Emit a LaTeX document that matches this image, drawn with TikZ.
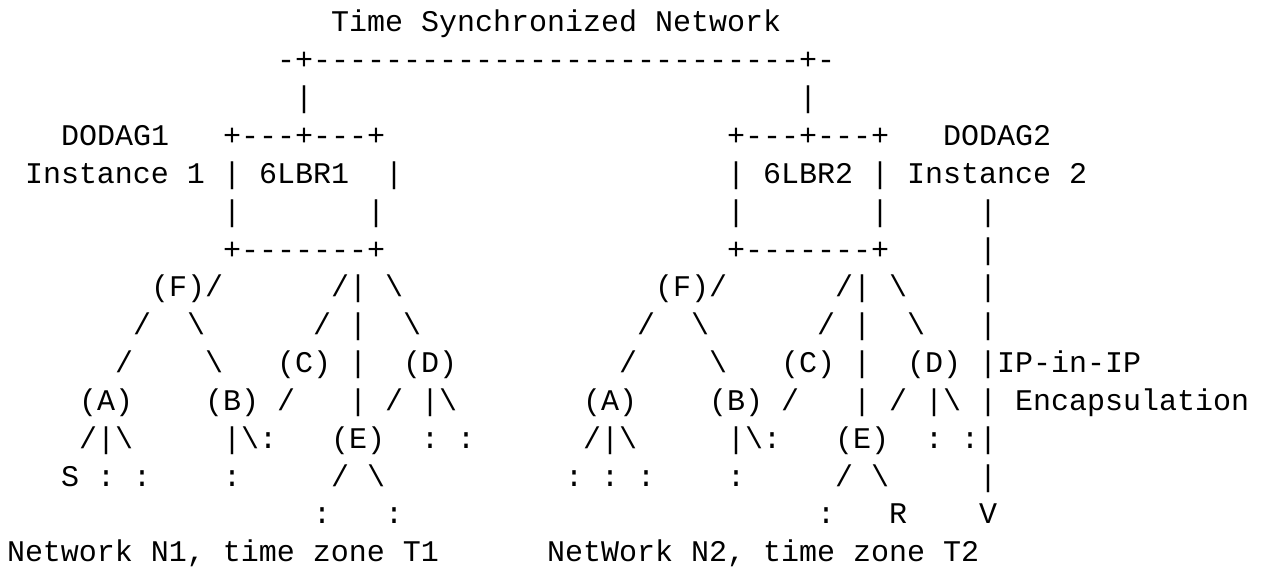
\documentclass[tikz,border=0pt]{standalone}
\usepackage{fontspec}
\setmonofont{Liberation Mono}
\newcommand\bs{\textbackslash}
% one fragment of the character grid: name, row, column, text
\newcommand\cell[4]{\node[asc] (#1) at ({7+18*#3},{32+37.84*#2}) {#4};}
\begin{document}
\begin{tikzpicture}[x=1pt,y=-1pt,
  asc/.style={anchor=base west,inner sep=0pt,outer sep=0pt,
    font=\ttfamily\fontsize{30}{36}\selectfont,text=black}]
\useasboundingbox[fill=white] (0,0) rectangle (1270,569);
% backbone
\cell{title}{0}{18}{Time Synchronized Network}
\cell{bus}{1}{15}{-+---------------------------+-}
\cell{upA}{2}{16}{|}
\cell{upB}{2}{44}{|}
% border routers
\cell{dagA}{3}{3}{DODAG1}
\cell{boxAt}{3}{12}{+---+---+}
\cell{boxBt}{3}{40}{+---+---+}
\cell{dagB}{3}{52}{DODAG2}
\cell{instA}{4}{1}{Instance 1}
\cell{boxAl}{4}{12}{|}
\cell{lbrA}{4}{14}{6LBR1}
\cell{boxAr}{4}{21}{|}
\cell{boxBl}{4}{40}{|}
\cell{lbrB}{4}{42}{6LBR2}
\cell{boxBr}{4}{48}{|}
\cell{instB}{4}{50}{Instance 2}
\cell{sAl}{5}{12}{|}
\cell{sAr}{5}{20}{|}
\cell{sBl}{5}{40}{|}
\cell{sBr}{5}{48}{|}
\cell{tun5}{5}{54}{|}
\cell{boxAb}{6}{12}{+-------+}
\cell{boxBb}{6}{40}{+-------+}
\cell{tun6}{6}{54}{|}
% first level
\cell{fA}{7}{8}{(F)/}
\cell{kA}{7}{18}{/|}
\cell{dA7}{7}{21}{\bs}
\cell{fB}{7}{36}{(F)/}
\cell{kB}{7}{46}{/|}
\cell{dB7}{7}{49}{\bs}
\cell{tun7}{7}{54}{|}
\cell{a81}{8}{7}{/}
\cell{a82}{8}{10}{\bs}
\cell{a83}{8}{17}{/}
\cell{a84}{8}{19}{|}
\cell{a85}{8}{22}{\bs}
\cell{b81}{8}{35}{/}
\cell{b82}{8}{38}{\bs}
\cell{b83}{8}{45}{/}
\cell{b84}{8}{47}{|}
\cell{b85}{8}{50}{\bs}
\cell{tun8}{8}{54}{|}
\cell{a91}{9}{6}{/}
\cell{a92}{9}{11}{\bs}
\cell{cA}{9}{15}{(C)}
\cell{a93}{9}{19}{|}
\cell{dA}{9}{22}{(D)}
\cell{b91}{9}{34}{/}
\cell{b92}{9}{39}{\bs}
\cell{cB}{9}{43}{(C)}
\cell{b93}{9}{47}{|}
\cell{dB}{9}{50}{(D)}
\cell{tun9}{9}{54}{|IP-in-IP}
% second level
\cell{aA}{10}{4}{(A)}
\cell{bA}{10}{11}{(B)}
\cell{a101}{10}{15}{/}
\cell{a102}{10}{19}{|}
\cell{a103}{10}{21}{/}
\cell{a104}{10}{23}{|\bs}
\cell{aB}{10}{32}{(A)}
\cell{bB}{10}{39}{(B)}
\cell{b101}{10}{43}{/}
\cell{b102}{10}{47}{|}
\cell{b103}{10}{49}{/}
\cell{b104}{10}{51}{|\bs}
\cell{tun10}{10}{54}{|}
\cell{encap}{10}{56}{Encapsulation}
\cell{a111}{11}{4}{/|\bs}
\cell{a112}{11}{12}{|\bs:}
\cell{eA}{11}{18}{(E)}
\cell{a113}{11}{23}{:}
\cell{a114}{11}{25}{:}
\cell{b111}{11}{32}{/|\bs}
\cell{b112}{11}{40}{|\bs:}
\cell{eB}{11}{46}{(E)}
\cell{b113}{11}{51}{:}
\cell{b114}{11}{53}{:|}
% leaves
\cell{src}{12}{3}{S}
\cell{a121}{12}{5}{:}
\cell{a122}{12}{7}{:}
\cell{a123}{12}{12}{:}
\cell{a124}{12}{18}{/}
\cell{a125}{12}{20}{\bs}
\cell{b121}{12}{31}{:}
\cell{b122}{12}{33}{:}
\cell{b123}{12}{35}{:}
\cell{b124}{12}{40}{:}
\cell{b125}{12}{46}{/}
\cell{b126}{12}{48}{\bs}
\cell{tun12}{12}{54}{|}
\cell{a131}{13}{17}{:}
\cell{a132}{13}{21}{:}
\cell{b131}{13}{45}{:}
\cell{rcv}{13}{49}{R}
\cell{dst}{13}{54}{V}
% captions
\cell{netA}{14}{0}{Network N1, time zone T1}
\cell{netB}{14}{30}{NetWork N2, time zone T2}
\end{tikzpicture}
\end{document}
